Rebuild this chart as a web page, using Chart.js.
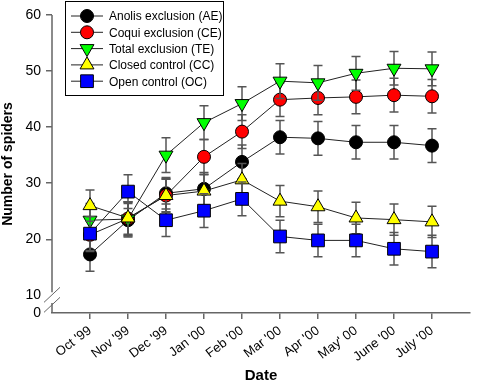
<!DOCTYPE html>
<html>
<head>
<meta charset="utf-8">
<script src="https://cdn.jsdelivr.net/npm/chart.js@4/dist/chart.umd.min.js"></script>
<style>
    html, body { margin: 0; padding: 0; background: #fff; }
    #wrap { width: 480px; height: 383px; }
</style>
</head>
<body>
<div id="wrap"><canvas id="spiderChart"></canvas></div>
<script>
const dates = ["Oct '99", "Nov '99", "Dec '99", "Jan '00", "Feb '00", "Mar '00", "Apr '00", "May' 00", "June '00", "July '00"];
const yTicks = [10, 20, 30, 40, 50, 60];

const ae = [17.3, 23.4, 28.2, 29.0, 33.8, 38.2, 38.0, 37.3, 37.3, 36.7];
const aeErr = [3.0, 3.0, 2.8, 2.9, 3.0, 3.0, 3.0, 3.0, 3.0, 3.0];
const ce = [20.8, 23.7, 27.8, 34.7, 39.2, 44.9, 45.2, 45.4, 45.7, 45.5];
const ceErr = [3.0, 3.0, 3.0, 3.1, 3.0, 3.0, 3.0, 3.0, 3.0, 3.0];
const te = [23.4, 23.6, 35.0, 40.8, 44.2, 48.2, 47.9, 49.6, 50.5, 50.4];
const teErr = [3.0, 3.0, 3.1, 3.0, 3.0, 3.1, 3.1, 3.0, 3.0, 3.0];
const cc = [26.0, 23.8, 27.8, 28.6, 30.6, 26.8, 25.8, 23.8, 23.5, 23.1];
const ccErr = [2.8, 2.9, 2.9, 2.9, 2.9, 2.8, 2.8, 2.8, 2.8, 2.8];
const oc = [21.0, 28.5, 23.4, 25.1, 27.2, 20.5, 19.8, 19.8, 18.3, 17.8];
const ocErr = [3.0, 3.0, 2.9, 3.0, 3.0, 2.9, 2.9, 2.9, 2.9, 2.9];

// value drawn as the "0" below the axis break
const yBreakMin = 6.85;
const font = "'Liberation Sans', Arial, sans-serif";

function series(label, values, errors, color, style, radius, rotation, order) {
    return {
        label: label,
        data: values.map((v, i) => ({ x: i, y: v })),
        errors: errors,
        borderColor: "#222",
        borderWidth: 1,
        backgroundColor: color,
        pointBackgroundColor: color,
        pointBorderColor: "#000",
        pointBorderWidth: 1,
        pointStyle: style,
        pointRadius: radius,
        pointRotation: rotation,
        order: order,
    };
}

const errorBars = {
    id: "errorBars",
    beforeDatasetDraw(chart, args) {
        const ds = chart.data.datasets[args.index];
        const xs = chart.scales.x, ys = chart.scales.y;
        const ctx = chart.ctx;
        ctx.save();
        ctx.strokeStyle = "#555";
        ctx.lineWidth = 1.5;
        ds.data.forEach((p, i) => {
            const x = xs.getPixelForValue(p.x);
            const top = ys.getPixelForValue(p.y + ds.errors[i]);
            const bot = ys.getPixelForValue(p.y - ds.errors[i]);
            ctx.beginPath();
            ctx.moveTo(x, top); ctx.lineTo(x, bot);
            ctx.moveTo(x - 4.5, top); ctx.lineTo(x + 4.5, top);
            ctx.moveTo(x - 4.5, bot); ctx.lineTo(x + 4.5, bot);
            ctx.stroke();
        });
        ctx.restore();
    },
};

const axisBreak = {
    id: "axisBreak",
    afterDraw(chart) {
        const ys = chart.scales.y;
        const ctx = chart.ctx;
        const x = chart.chartArea.left;
        const p10 = ys.getPixelForValue(10);
        const p0 = ys.getPixelForValue(yBreakMin);
        ctx.save();
        ctx.strokeStyle = "#666";
        ctx.lineWidth = 1.5;
        ctx.beginPath();
        ctx.moveTo(x, ys.getPixelForValue(60));
        ctx.lineTo(x, p10 - 3);
        ctx.moveTo(x, p0 - 10);
        ctx.lineTo(x, p0);
        ctx.stroke();
        ctx.lineWidth = 1;
        ctx.beginPath();
        ctx.moveTo(x - 8, p10 + 7); ctx.lineTo(x + 8, p10 - 8);
        ctx.moveTo(x - 8, p10 + 17); ctx.lineTo(x + 8, p10 + 2);
        ctx.stroke();
        ctx.restore();
    },
};

const boxLegend = {
    id: "boxLegend",
    afterDraw(chart) {
        const ctx = chart.ctx;
        ctx.save();
        ctx.strokeStyle = "#000";
        ctx.lineWidth = 1;
        ctx.strokeRect(65.5, 1.5, 158, 94);
        ctx.font = "12px " + font;
        ctx.textBaseline = "middle";
        chart.data.datasets.forEach((ds, i) => {
            const y = 16 + i * 16.3;
            ctx.strokeStyle = "#222";
            ctx.beginPath();
            ctx.moveTo(71, y); ctx.lineTo(103, y);
            ctx.stroke();
            ctx.fillStyle = ds.pointBackgroundColor;
            ctx.strokeStyle = "#000";
            Chart.helpers.drawPoint(ctx, {
                pointStyle: ds.pointStyle,
                radius: ds.pointRadius,
                rotation: ds.pointRotation,
                borderWidth: 1,
            }, 87, y);
            ctx.fillStyle = "#000";
            ctx.fillText(ds.label, 109, y + 1);
        });
        ctx.restore();
    },
};

new Chart(document.getElementById("spiderChart"), {
    type: "line",
    data: {
        datasets: [
            series("Anolis exclusion (AE)", ae, aeErr, "#000000", "circle", 6.5, 0, 5),
            series("Coqui exclusion (CE)", ce, ceErr, "#ff0000", "circle", 6.5, 0, 4),
            series("Total exclusion (TE)", te, teErr, "#00ff00", "triangle", 8, 180, 3),
            series("Closed control (CC)", cc, ccErr, "#ffff00", "triangle", 8, 0, 2),
            series("Open control (OC)", oc, ocErr, "#0000ff", "rect", 9, 0, 1),
        ],
    },
    options: {
        responsive: true,
        maintainAspectRatio: false,
        animation: false,
        events: [],
        layout: { padding: { top: 15, right: 2, left: 0, bottom: 0 } },
        plugins: { legend: { display: false }, tooltip: { enabled: false } },
        scales: {
            x: {
                type: "linear",
                min: -1,
                max: 10,
                afterBuildTicks: (s) => { s.ticks = dates.map((d, i) => ({ value: i })); },
                afterFit: (s) => { s.height = 70; },
                ticks: {
                    autoSkip: false,
                    maxRotation: 37,
                    minRotation: 37,
                    padding: 4,
                    color: "#000",
                    font: { family: font, size: 13 },
                    callback: (v) => dates[v],
                },
                grid: { drawOnChartArea: false, tickLength: 6, color: "#666", lineWidth: 1.5 },
                border: { color: "#666", width: 1.5 },
                title: {
                    display: true,
                    text: "Date",
                    color: "#000",
                    font: { family: font, size: 15, weight: "bold", lineHeight: 1 },
                    padding: { top: 0, bottom: 0 },
                },
            },
            y: {
                type: "linear",
                min: yBreakMin,
                max: 60,
                afterBuildTicks: (s) => { s.ticks = [yBreakMin].concat(yTicks).map((v) => ({ value: v })); },
                afterFit: (s) => { s.width = 52; },
                ticks: {
                    padding: 5,
                    color: "#000",
                    font: { family: font, size: 14 },
                    callback: (v) => (v < 10 ? "0" : v),
                },
                grid: {
                    drawOnChartArea: false,
                    tickLength: 6,
                    lineWidth: 1.5,
                    color: (c) => (c.tick && c.tick.value <= 10 ? "rgba(0,0,0,0)" : "#666"),
                },
                border: { display: false },
                title: {
                    display: true,
                    text: "Number of spiders",
                    color: "#000",
                    font: { family: font, size: 14, weight: "bold" },
                    padding: { top: 0, bottom: 2 },
                },
            },
        },
    },
    plugins: [errorBars, axisBreak, boxLegend],
});
</script>
</body>
</html>
